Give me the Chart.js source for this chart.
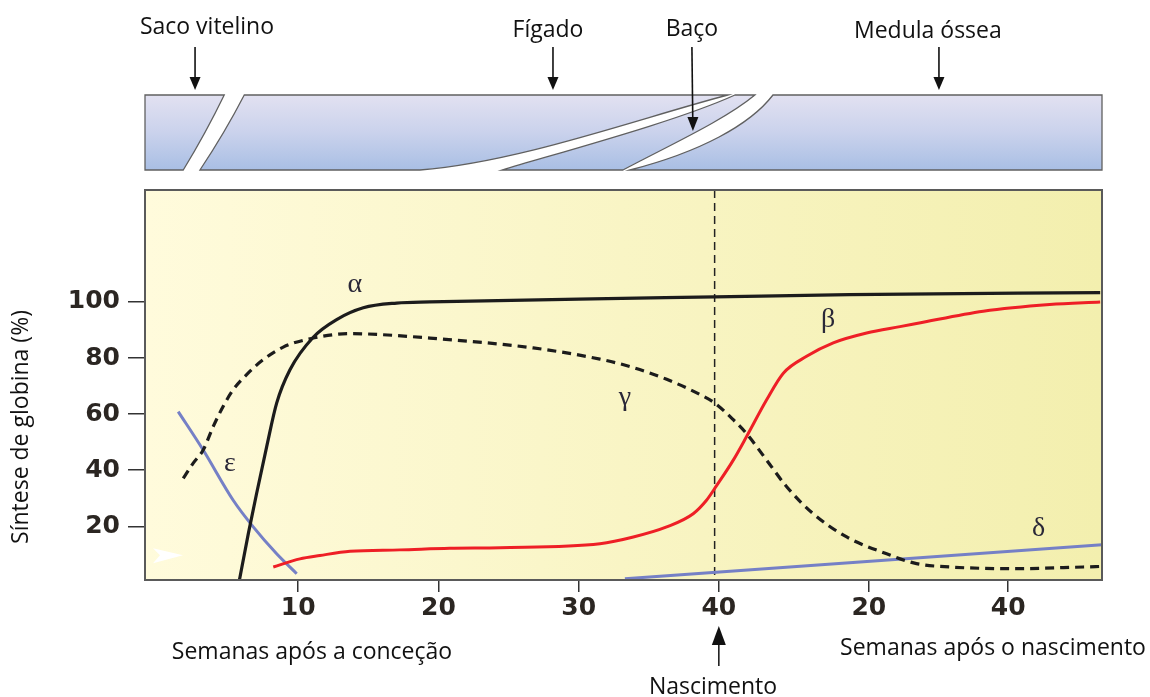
<!DOCTYPE html>
<html>
<head>
<meta charset="utf-8">
<script src="https://cdn.jsdelivr.net/npm/chart.js@4.4.0/dist/chart.umd.min.js"></script>
<style>
html,body{margin:0;padding:0;background:#ffffff;}
#wrap{position:relative;width:1150px;height:697px;}
</style>
</head>
<body>
<div id="wrap"><canvas id="c" width="1150" height="697"></canvas></div>
<script>
// ---- Data (x = weeks after conception; after birth the scale is compressed) ----
const xTickValues = [10, 20, 30, 40, 50.7, 60.64];
const xTickLabels = ['10', '20', '30', '40', '20', '40'];
const yTickValues = [20, 40, 60, 80, 100];
const birthWeek = 39.7;

const alphaX = [5.80, 6.44, 7.03, 7.75, 8.46, 9.41, 11.07, 12.74, 14.64, 17.02, 19.39, 30.0, 39.72, 49.3, 67.2];
const alphaY = [0.7, 17.4, 31.7, 48.4, 63.9, 75.8, 87.4, 93.7, 97.9, 99.6, 100.0, 101.0, 101.8, 102.6, 103.3];

const gammaX = [1.80, 2.51, 3.22, 3.94, 4.65, 5.36, 6.32, 7.50, 8.93, 10.6, 13.69, 16.04, 19.39, 26.76, 31.52, 33.9, 36.28, 38.65, 39.72, 41.03, 41.98, 43.41, 44.84, 46.73, 49.12, 51.97, 54.1, 56.5, 61.2, 66.0, 67.33];
const gammaY = [37.1, 42.5, 47.2, 55.6, 62.8, 68.7, 74.1, 79.4, 83.9, 86.6, 88.7, 88.3, 87.1, 83.6, 79.6, 76.6, 72.4, 67.0, 63.9, 58.0, 53.0, 43.6, 34.1, 24.5, 16.2, 10.2, 6.7, 5.5, 4.9, 5.5, 5.7];

const betaX = [8.22, 10.12, 11.55, 13.7, 17.25, 20.8, 24.4, 31.52, 33.9, 36.28, 38.17, 39.12, 39.84, 41.03, 41.98, 43.41, 44.6, 46.26, 48.16, 50.54, 52.92, 54.1, 58.86, 63.6, 67.2];
const betaY = [5.5, 8.4, 9.6, 11.1, 11.6, 12.2, 12.4, 13.8, 16.2, 19.8, 24.5, 29.3, 34.5, 43.6, 52.0, 65.1, 74.6, 80.6, 85.4, 88.9, 91.2, 92.3, 96.7, 99.1, 100.0];

const epsilonX = [1.44, 3.22, 5.36, 6.79, 8.46, 9.89];
const epsilonY = [60.9, 47.2, 29.3, 19.8, 10.2, 3.1];

const deltaX = [33.3, 67.33];
const deltaY = [1.3, 13.4];

const greekLabels = ['α', 'γ', 'β', 'ε', 'δ'];
const greekX = [14.04, 33.3, 47.8, 5.13, 62.8];
const greekY = [106.2, 65.7, 93.7, 42.4, 19.2];

const siteLabels = ['Saco vitelino', 'Fígado', 'Baço', 'Medula óssea'];
const siteLabelX = [3.49, 27.81, 38.08, 54.91];

// ---- helpers ----
const pts = (xs, ys) => xs.map((v, i) => ({x: v, y: ys[i]}));
const TEXT_FONT = '"Open Sans", "Liberation Sans", sans-serif';

function arrowDown(ctx, x, y1, y2, head) {
  ctx.beginPath(); ctx.moveTo(x, y1); ctx.lineTo(x, y2 - head + 2); ctx.stroke();
  ctx.beginPath(); ctx.moveTo(x, y2); ctx.lineTo(x - 5.5, y2 - head); ctx.lineTo(x + 5.5, y2 - head); ctx.closePath(); ctx.fill();
}

function drawBand(chart) {
  const {ctx, chartArea: a, scales: {x}} = chart;
  const top = 95, bot = 170, L = a.left, R = a.right;
  const X = v => x.getPixelForValue(v);
  const Y = f => top + f * (bot - top);
  const grad = ctx.createLinearGradient(0, top, 0, bot);
  grad.addColorStop(0, '#e2e1f1');
  grad.addColorStop(0.5, '#cad2ec');
  grad.addColorStop(1, '#a9bfe4');
  ctx.save();
  ctx.fillStyle = grad; ctx.strokeStyle = '#606060'; ctx.lineWidth = 1.3; ctx.lineJoin = 'miter';
  // yolk sac
  ctx.beginPath(); ctx.moveTo(L, top); ctx.lineTo(X(4.72), top);
  ctx.quadraticCurveTo(X(3.43), Y(0.5), X(1.80), bot); ctx.lineTo(L, bot); ctx.closePath();
  ctx.fill(); ctx.stroke();
  // liver
  ctx.beginPath(); ctx.moveTo(X(6.15), top); ctx.lineTo(X(40.64), top);
  ctx.bezierCurveTo(X(34.37), Y(0.307), X(25.81), Y(0.893), X(18.68), bot);
  ctx.lineTo(X(2.99), bot);
  ctx.quadraticCurveTo(X(4.77), Y(0.5), X(6.15), top); ctx.closePath();
  ctx.fill(); ctx.stroke();
  // spleen
  ctx.beginPath(); ctx.moveTo(X(41.15), top); ctx.lineTo(X(42.57), top);
  ctx.bezierCurveTo(X(40.43), Y(0.333), X(36.51), Y(0.667), X(33.16), bot);
  ctx.lineTo(X(24.53), bot);
  ctx.bezierCurveTo(X(30.09), Y(0.693), X(37.22), Y(0.333), X(41.15), top); ctx.closePath();
  ctx.fill(); ctx.stroke();
  // bone marrow
  ctx.beginPath(); ctx.moveTo(X(43.86), top); ctx.lineTo(R, top); ctx.lineTo(R, bot); ctx.lineTo(X(33.66), bot);
  ctx.bezierCurveTo(X(38.65), Y(0.76), X(42.22), Y(0.4), X(43.86), top); ctx.closePath();
  ctx.fill(); ctx.stroke();

  // labels + arrows
  ctx.fillStyle = '#111'; ctx.strokeStyle = '#111'; ctx.lineWidth = 1.6;
  ctx.font = '23px ' + TEXT_FONT; ctx.textAlign = 'center'; ctx.textBaseline = 'alphabetic';
  const baselines = [33.5, 37, 36, 38];
  siteLabels.forEach((t, i) => ctx.fillText(t, X(siteLabelX[i]), baselines[i]));
  arrowDown(ctx, X(2.64), 47, 90, 13);
  arrowDown(ctx, X(28.17), 47, 90, 13);
  arrowDown(ctx, X(55.7), 47, 90, 13);
  // spleen arrow goes into the band
  ctx.beginPath(); ctx.moveTo(X(38.08), 47); ctx.lineTo(X(38.14), 118); ctx.stroke();
  ctx.beginPath(); ctx.moveTo(X(38.15), 131); ctx.lineTo(X(38.15) - 5.5, 117); ctx.lineTo(X(38.15) + 5.5, 117); ctx.closePath(); ctx.fill();
  ctx.restore();
}

const decor = {
  id: 'decor',
  beforeDraw(chart) {
    const {ctx, chartArea: a, scales: {x, y}} = chart;
    ctx.save();
    const g = ctx.createLinearGradient(a.left, 0, a.right, 0);
    g.addColorStop(0, '#fffbdc');
    g.addColorStop(0.5, '#f9f5c5');
    g.addColorStop(1, '#f3efae');
    ctx.fillStyle = g;
    ctx.fillRect(a.left, a.top, a.right - a.left, a.bottom - a.top);
    // small white arrowhead marker at the lower left
    const ax = x.getPixelForValue(0.71), ay = y.getPixelForValue(9.7);
    ctx.fillStyle = '#ffffff';
    ctx.beginPath();
    ctx.moveTo(ax + 15, ay); ctx.lineTo(ax - 15, ay - 7); ctx.lineTo(ax - 8, ay); ctx.lineTo(ax - 15, ay + 8);
    ctx.closePath(); ctx.fill();
    ctx.restore();
    drawBand(chart);
  },
  beforeDatasetsDraw(chart) {
    const {ctx, chartArea: a, scales: {x}} = chart;
    const bx = x.getPixelForValue(birthWeek);
    ctx.save();
    ctx.strokeStyle = '#222'; ctx.lineWidth = 1.5; ctx.setLineDash([8, 5]);
    ctx.beginPath(); ctx.moveTo(bx, a.top); ctx.lineTo(bx, a.bottom); ctx.stroke();
    ctx.restore();
  },
  afterDatasetsDraw(chart) {
    const {ctx, scales: {x, y}} = chart;
    ctx.save();
    ctx.fillStyle = '#2a2838';
    ctx.font = '28px "Liberation Serif", "DejaVu Serif", serif';
    ctx.textAlign = 'center'; ctx.textBaseline = 'middle';
    greekLabels.forEach((t, i) => ctx.fillText(t, x.getPixelForValue(greekX[i]), y.getPixelForValue(greekY[i])));
    ctx.restore();
  },
  afterDraw(chart) {
    const {ctx, chartArea: a, scales: {x}} = chart;
    ctx.save();
    ctx.strokeStyle = '#5a5a5a'; ctx.lineWidth = 2;
    ctx.strokeRect(a.left, a.top, a.right - a.left, a.bottom - a.top);
    // axis title
    ctx.fillStyle = '#111';
    ctx.font = '23px ' + TEXT_FONT;
    ctx.textAlign = 'center'; ctx.textBaseline = 'middle';
    ctx.save(); ctx.translate(21, 427); ctx.rotate(-Math.PI / 2);
    ctx.fillText('Síntese de globina (%)', 0, 0);
    ctx.restore();
    ctx.textBaseline = 'alphabetic';
    ctx.fillText('Semanas após a conceção', 312, 659);
    ctx.fillText('Semanas após o nascimento', 993, 655);
    ctx.fillText('Nascimento', 713, 694);
    // birth arrow
    const bx = x.getPixelForValue(40);
    ctx.strokeStyle = '#111'; ctx.lineWidth = 1.5;
    ctx.beginPath(); ctx.moveTo(bx, 666); ctx.lineTo(bx, 640); ctx.stroke();
    ctx.beginPath(); ctx.moveTo(bx, 626); ctx.lineTo(bx - 7, 645); ctx.lineTo(bx + 7, 645); ctx.closePath(); ctx.fill();
    ctx.restore();
  }
};

const tickFont = {family: '"DejaVu Sans", Verdana, sans-serif', size: 25, weight: 'bold'};

new Chart(document.getElementById('c'), {
  type: 'line',
  data: {
    datasets: [
      {label: 'α', data: pts(alphaX, alphaY), borderColor: '#1c1c1c', borderWidth: 3.2},
      {label: 'γ', data: pts(gammaX, gammaY), borderColor: '#1c1c1c', borderWidth: 3.2, borderDash: [9, 6]},
      {label: 'β', data: pts(betaX, betaY), borderColor: '#ee1f26', borderWidth: 3},
      {label: 'ε', data: pts(epsilonX, epsilonY), borderColor: '#7580c6', borderWidth: 3},
      {label: 'δ', data: pts(deltaX, deltaY), borderColor: '#7580c6', borderWidth: 3}
    ]
  },
  options: {
    responsive: false,
    devicePixelRatio: 1,
    animation: false,
    layout: {padding: {top: 190, right: 48, left: 0, bottom: 0}},
    elements: {point: {radius: 0}, line: {cubicInterpolationMode: 'monotone', fill: false}},
    plugins: {legend: {display: false}, tooltip: {enabled: false}},
    scales: {
      x: {
        type: 'linear', min: -0.93, max: 67.33,
        afterBuildTicks: s => { s.ticks = xTickValues.map(v => ({value: v})); },
        afterFit: s => { s.height = 117; },
        grid: {display: true, drawOnChartArea: false, drawTicks: true, tickLength: 12, color: '#333', lineWidth: 1.5},
        border: {display: true, color: '#5a5a5a', width: 2},
        ticks: {callback: (v, i) => xTickLabels[i], font: tickFont, color: '#2b2622', padding: 1, maxRotation: 0, autoSkip: false}
      },
      y: {
        type: 'linear', min: 0.86, max: 139.9,
        afterBuildTicks: s => { s.ticks = yTickValues.map(v => ({value: v})); },
        afterFit: s => { s.width = 145; },
        grid: {display: true, drawOnChartArea: false, drawTicks: true, tickLength: 17, color: '#333', lineWidth: 1.5},
        border: {display: true, color: '#5a5a5a', width: 2},
        ticks: {font: tickFont, color: '#2b2622', padding: 8}
      }
    }
  },
  plugins: [decor]
});
</script>
</body>
</html>
